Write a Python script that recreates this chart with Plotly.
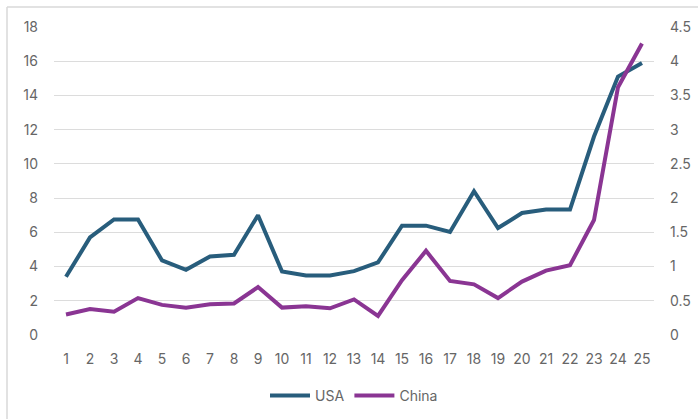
import plotly.graph_objects as go

# Categories and series values
periods = list(range(1, 26))
usa = [3.4, 5.7, 6.75, 6.75, 4.36, 3.81, 4.59, 4.69, 7.0, 3.71, 3.48, 3.48, 3.73,
       4.24, 6.39, 6.39, 6.02, 8.4, 6.25, 7.13, 7.33, 7.33, 11.6, 15.1, 15.9]
china = [0.3, 0.38, 0.34, 0.54, 0.44, 0.4, 0.45, 0.46, 0.7, 0.4, 0.42, 0.39, 0.52,
         0.28, 0.8, 1.23, 0.79, 0.74, 0.54, 0.78, 0.94, 1.02, 1.68, 3.62, 4.26]

left_ticks = [0, 2, 4, 6, 8, 10, 12, 14, 16, 18]
right_ticks = [0, 0.5, 1, 1.5, 2, 2.5, 3, 3.5, 4, 4.5]
right_labels = ["0", "0.5", "1", "1.5", "2", "2.5", "3", "3.5", "4", "4.5"]

font_family = "Inter, Roboto, 'Open Sans', sans-serif"
text_col = "#666666"
grid_col = "#dcdcdc"

fig = go.Figure()
fig.add_trace(go.Scatter(
    x=periods, y=usa, name="USA", mode="lines",
    line=dict(color="#285d7c", width=4), yaxis="y",
))
fig.add_trace(go.Scatter(
    x=periods, y=china, name="China", mode="lines",
    line=dict(color="#8a3593", width=4), yaxis="y2",
))

W, H = 698, 419
ml, mr, mt, mb = 54, 44, 27, 84
pw, ph = W - ml - mr, H - mt - mb

def px_x(px):
    return (px - ml) / pw

def px_y(py):
    return (H - mb - py) / ph

fig.update_layout(
    width=W, height=H,
    margin=dict(l=ml, r=mr, t=mt, b=mb, autoexpand=False),
    paper_bgcolor="white", plot_bgcolor="white",
    font=dict(family=font_family, size=14, color=text_col),
    showlegend=True,
    legend=dict(orientation="h", x=0.5, xanchor="center", y=px_y(396), yanchor="middle",
                font=dict(size=14, color=text_col), itemwidth=40,
                traceorder="normal"),
    xaxis=dict(
        range=[0.5, 25.5], tickmode="array", tickvals=periods,
        ticktext=[str(p) for p in periods], showgrid=False, zeroline=False,
        showline=False, ticks="", ticklabelstandoff=14, automargin=False,
    ),
    yaxis=dict(
        range=[0, 18], tickmode="array", tickvals=left_ticks,
        showgrid=True, gridcolor=grid_col, gridwidth=1, zeroline=False,
        showline=False, ticks="", ticklabelstandoff=15, automargin=False,
    ),
    yaxis2=dict(
        range=[0, 4.5], tickmode="array", tickvals=right_ticks, ticktext=right_labels,
        overlaying="y", side="right", showgrid=False, zeroline=False,
        showline=False, ticks="", ticklabelstandoff=15, automargin=False,
    ),
    shapes=[
        dict(type="line", xref="paper", yref="paper",
             x0=px_x(7), x1=px_x(W), y0=px_y(7), y1=px_y(7),
             line=dict(color="#d9d9d9", width=1.5)),
        dict(type="line", xref="paper", yref="paper",
             x0=px_x(7), x1=px_x(7), y0=px_y(7), y1=px_y(H),
             line=dict(color="#d9d9d9", width=1.5)),
    ],
)

fig.write_html("out.html")
